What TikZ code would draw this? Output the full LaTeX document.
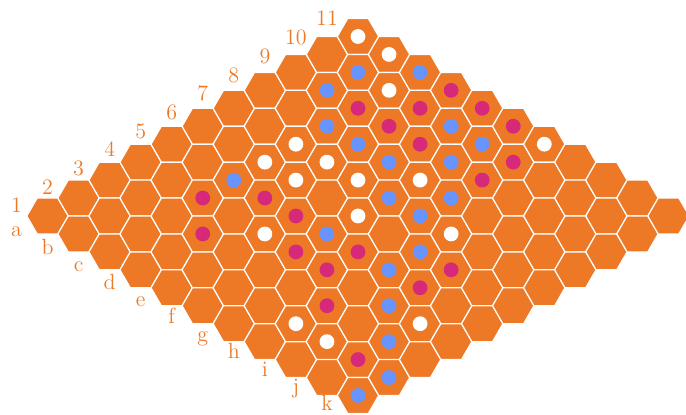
\documentclass[tikz,border=0pt]{standalone}
\definecolor{hexorange}{RGB}{237,121,38}
\definecolor{stonepink}{RGB}{214,41,122}
\definecolor{stoneblue}{RGB}{104,148,255}
\begin{document}
\begin{tikzpicture}[x=0.5pt,y=-0.5pt,
    cell/.style={fill=hexorange,draw=white,line width=0.6pt,line join=miter},
    edgetext/.style={text=hexorange,font=\fontsize{11}{13}\selectfont,anchor=base,inner sep=0pt},
    whitestone/.style={fill=white},
    bluestone/.style={fill=stoneblue},
    pinkstone/.style={fill=stonepink}
]
\useasboundingbox (0,0) rectangle (686,415);
\foreach \r [count=\i from 0] in {a,b,c,d,e,f,g,h,i,j,k} {
  \foreach \c [count=\j from 0] in {1,...,11} {
    \coordinate (\r\c) at ({47.5+31.05*(\i+\j)},{216+17.95*(\i-\j)});
    \draw[cell] (\r\c) +(0:20.7) -- +(60:20.7) -- +(120:20.7) -- +(180:20.7)
      -- +(240:20.7) -- +(300:20.7) -- cycle;
  }
  \node[edgetext] (row\r) at ({47.5+31.05*\i-31},{216+17.95*\i+21-0.55*\i}) {\r};
}
\foreach \c [count=\j from 0] in {1,...,11}
  \node[edgetext] (col\c) at ({47.5+31.05*\j-31},{216-17.95*\j-3-0.75*\j}) {\c};

\foreach \s in {a11,b11,c10,c7,c6,d7,d6,e7,f8,f6,e4,g11,h7,h2,j4,i2}
  \fill[whitestone] (\s) circle (7.4);
\foreach \s in {b10,c11,b9,c8,e10,d8,e8,f9,c5,f7,g8,f10,g7,f5,h6,h5,i4,j3,k2,k1}
  \fill[bluestone] (\s) circle (7.4);
\foreach \s in {d11,c9,d10,d9,e9,d5,e5,e11,f11,g10,g9,c4,d3,f4,g5,g4,i6,i5,h3,j2}
  \fill[pinkstone] (\s) circle (7.4);
\end{tikzpicture}
\end{document}
